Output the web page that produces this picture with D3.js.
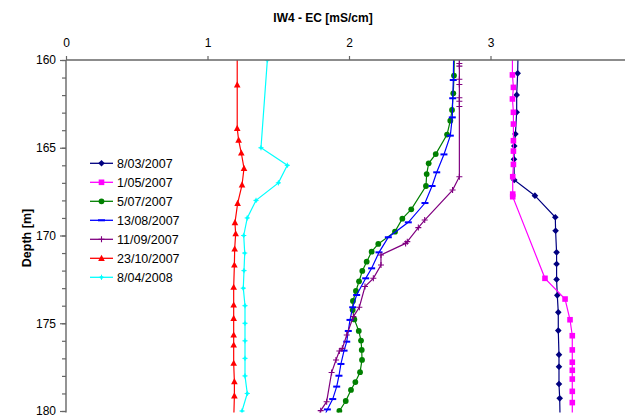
<!DOCTYPE html>
<html>
<head>
<meta charset="utf-8">
<script src="https://cdn.jsdelivr.net/npm/d3@7"></script>
<style>
  html, body { margin: 0; padding: 0; background: #fff; }
  svg { display: block; }
  text { font-family: "Liberation Sans", Arial, sans-serif; fill: #000; }
</style>
</head>
<body>
<svg id="chart" width="625" height="417"></svg>
<script>
// EC profiles of well IW4: each series is a list of [depth (m), EC (mS/cm)] readings.
const ec_2007_03_08 = [[159.5,3.195],[160.76,3.192],[161.99,3.185],[162.98,3.185],[164.22,3.176],[164.9,3.168],[165.66,3.166],[166.84,3.168],[167.73,3.314],[168.96,3.458],[169.73,3.46],[170.96,3.467],[171.62,3.467],[172.5,3.467],[173.41,3.472],[174.38,3.479],[175.42,3.479],[176.79,3.484],[177.48,3.484],[178.46,3.484],[179.28,3.489],[180.6,3.492]];
const ec_2007_05_01 = [[159.5,3.155],[160.85,3.155],[161.56,3.162],[162.22,3.155],[162.98,3.162],[163.65,3.162],[164.6,3.162],[165.19,3.162],[165.95,3.162],[166.65,3.157],[167.64,3.157],[167.79,3.157],[172.44,3.385],[173.62,3.527],[174.8,3.562],[175.71,3.578],[176.52,3.578],[177.22,3.578],[177.68,3.578],[178.18,3.578],[178.88,3.578],[179.52,3.578],[180.6,3.578]];
const ec_2007_07_05 = [[159.5,2.745],[160.89,2.742],[161.9,2.737],[162.85,2.728],[163.46,2.716],[164.25,2.693],[165.36,2.613],[165.89,2.563],[166.5,2.549],[167.18,2.544],[168.51,2.44],[169.04,2.377],[169.78,2.325],[170.48,2.207],[170.92,2.16],[171.49,2.125],[172.02,2.094],[172.61,2.071],[173.16,2.049],[173.73,2.028],[174.25,2.026],[174.78,2.038],[175.44,2.069],[175.99,2.085],[176.52,2.09],[177.09,2.092],[177.79,2.078],[178.35,2.045],[178.8,2.014],[179.43,1.977],[180.0,1.932],[180.6,1.89]];
const ec_2007_08_13 = [[159.5,2.74],[161.14,2.737],[162.18,2.733],[163.27,2.73],[164.31,2.716],[165.38,2.671],[166.4,2.62],[167.18,2.587],[168.15,2.537],[169.25,2.419],[170.1,2.278],[170.96,2.212],[171.87,2.16],[172.44,2.118],[173.39,2.054],[174.09,2.026],[174.81,2.007],[175.44,1.995],[176.05,1.984],[176.56,1.965],[177.32,1.943],[177.99,1.929],[178.61,1.913],[179.32,1.885],[179.91,1.847],[180.6,1.81]];
const ec_2007_09_11 = [[159.5,2.78],[160.2,2.78],[160.35,2.78],[161.1,2.78],[161.4,2.78],[162.15,2.78],[162.35,2.78],[162.65,2.78],[166.65,2.78],[167.41,2.732],[169.12,2.535],[169.55,2.49],[170.35,2.412],[170.45,2.4],[171.11,2.226],[171.68,2.226],[172.44,2.172],[172.91,2.113],[174.09,2.073],[174.62,2.031],[175.67,1.984],[176.43,1.953],[176.58,1.932],[177.09,1.908],[177.81,1.877],[179.47,1.842],[179.98,1.8],[180.6,1.77]];
const ec_2007_10_23 = [[159.5,1.21],[161.42,1.21],[163.9,1.21],[164.56,1.22],[165.3,1.239],[166.17,1.258],[167.12,1.244],[168.17,1.213],[169.27,1.194],[169.9,1.199],[170.77,1.192],[171.68,1.19],[172.95,1.185],[173.96,1.185],[174.72,1.185],[175.67,1.185],[176.24,1.185],[177.28,1.185],[178.33,1.19],[179.14,1.19],[180.6,1.185]];
const ec_2008_04_08 = [[160,1.423],[165,1.378],[166,1.564],[167,1.501],[168,1.343],[169,1.281],[170,1.256],[171,1.263],[172,1.258],[173,1.253],[174,1.265],[175,1.265],[176,1.265],[177,1.265],[178,1.265],[179,1.281],[180,1.244]];

const seriesNames = ["8/03/2007","1/05/2007","5/07/2007","13/08/2007","11/09/2007","23/10/2007","8/04/2008"];
const xTickValues = [0, 1, 2, 3];
const yMajorTicks = [160, 165, 170, 175, 180];
const chartTitle = "IW4 - EC [mS/cm]";
const yTitle = "Depth [m]";

const seriesList = [
  { name: seriesNames[0], data: ec_2007_03_08, color: "#000080", marker: "diamond" },
  { name: seriesNames[1], data: ec_2007_05_01, color: "#FF00FF", marker: "square" },
  { name: seriesNames[2], data: ec_2007_07_05, color: "#008000", marker: "circle" },
  { name: seriesNames[3], data: ec_2007_08_13, color: "#0000FF", marker: "dash" },
  { name: seriesNames[4], data: ec_2007_09_11, color: "#800080", marker: "plus" },
  { name: seriesNames[5], data: ec_2007_10_23, color: "#FF0000", marker: "triangle" },
  { name: seriesNames[6], data: ec_2008_04_08, color: "#00FFFF", marker: "star" }
];

const svg = d3.select("#chart");
const x = d3.scaleLinear().domain([0, 4]).range([66, 632]);
const y = d3.scaleLinear().domain([160, 180]).range([60, 411]);

svg.append("defs").append("clipPath").attr("id", "plotClip")
  .append("rect").attr("x", x(0)).attr("y", y(160))
  .attr("width", x(4) - x(0)).attr("height", y(180) - y(160) + 1.5);

// Marker shapes drawn at the origin
function drawMarker(g, type, color) {
  if (type === "diamond") {
    g.append("path").attr("d", "M0,-3.3L3.3,0L0,3.3L-3.3,0Z").attr("fill", color);
  } else if (type === "square") {
    g.append("rect").attr("x", -2.8).attr("y", -2.8).attr("width", 5.6).attr("height", 5.6).attr("fill", color);
  } else if (type === "circle") {
    g.append("circle").attr("r", 2.9).attr("fill", color);
  } else if (type === "dash") {
    g.append("rect").attr("x", -3.5).attr("y", -1).attr("width", 7).attr("height", 2).attr("fill", color);
  } else if (type === "plus") {
    g.append("path").attr("d", "M-3,0H3M0,-3V3").attr("stroke", color).attr("stroke-width", 1.1).attr("fill", "none");
  } else if (type === "triangle") {
    g.append("path").attr("d", "M0,-3.6L3.3,2.6L-3.3,2.6Z").attr("fill", color);
  } else if (type === "star") {
    g.append("circle").attr("r", 1.6).attr("fill", color);
    g.append("path").attr("d", "M-2.6,0H2.6M0,-2.6V2.6").attr("stroke", color).attr("stroke-width", 1).attr("fill", "none");
  }
}

const line = d3.line().x(d => x(d[1])).y(d => y(d[0]));

const plot = svg.append("g").attr("clip-path", "url(#plotClip)");
seriesList.forEach(s => {
  const g = plot.append("g");
  g.append("path").datum(s.data).attr("d", line)
    .attr("fill", "none").attr("stroke", s.color).attr("stroke-width", 1.2);
  g.selectAll("g.m").data(s.data).enter().append("g").attr("class", "m")
    .attr("transform", d => `translate(${x(d[1])},${y(d[0])})`)
    .each(function () { drawMarker(d3.select(this), s.marker, s.color); });
});

// Axes
const axisColor = "#666";
const xAxis = svg.append("g").attr("transform", `translate(0,${y(160)})`)
  .call(d3.axisTop(x).tickValues(xTickValues).tickSize(4).tickPadding(9).tickFormat(d3.format("d")));
const yMinor = svg.append("g").attr("transform", `translate(${x(0)},0)`)
  .call(d3.axisLeft(y).tickValues(d3.range(160, 181, 1)).tickSize(4).tickFormat(""));
const yAxis = svg.append("g").attr("transform", `translate(${x(0)},0)`)
  .call(d3.axisLeft(y).tickValues(yMajorTicks).tickSize(6).tickPadding(4).tickFormat(d3.format("d")));

[xAxis, yMinor, yAxis].forEach(a => {
  a.select(".domain").attr("stroke", axisColor).attr("stroke-width", 1.4);
  a.selectAll(".tick line").attr("stroke", axisColor).attr("stroke-width", 1.2);
  a.selectAll(".tick text").attr("font-size", 12).attr("font-family", "Liberation Sans, Arial, sans-serif").attr("fill", "#000");
});
xAxis.select(".domain").attr("d", `M${x(0)},0H${x(4)}`);
yAxis.select(".domain").attr("d", `M0,${y(160)}V${y(180) + 1.5}`);
yMinor.select(".domain").remove();

// Titles
svg.append("text").attr("x", 323).attr("y", 22).attr("text-anchor", "middle")
  .attr("font-size", 12).attr("font-weight", "bold").text(chartTitle);
svg.append("text").attr("transform", `translate(31,238) rotate(-90)`).attr("text-anchor", "middle")
  .attr("font-size", 12.5).attr("font-weight", "bold").text(yTitle);

// Legend
const legend = svg.append("g");
seriesList.forEach((s, i) => {
  const cy = 163.3 + i * 19;
  const g = legend.append("g").attr("transform", `translate(0,${cy})`);
  g.append("line").attr("x1", 90).attr("x2", 113).attr("y1", 0).attr("y2", 0)
    .attr("stroke", s.color).attr("stroke-width", 1.3);
  const m = g.append("g").attr("transform", "translate(101.5,0)");
  drawMarker(m, s.marker, s.color);
  g.append("text").attr("x", 117).attr("y", 4.5).attr("font-size", 12.5).text(s.name);
});
</script>
</body>
</html>
